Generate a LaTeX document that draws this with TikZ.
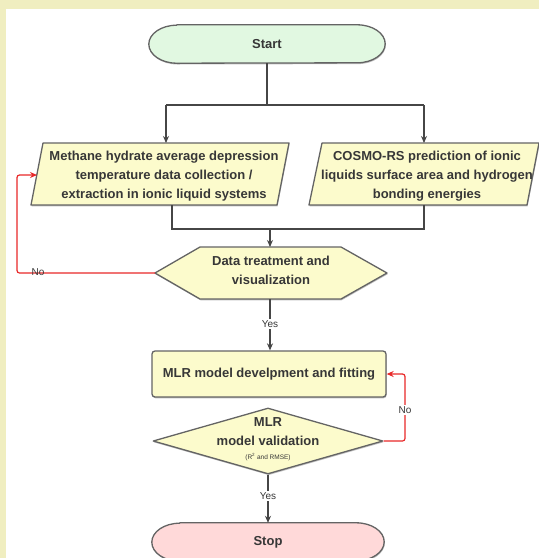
\documentclass[tikz,border=0pt]{standalone}
\usepackage{fontspec}
\setmainfont{Liberation Sans}
\usetikzlibrary{shapes.misc,shapes.geometric,arrows.meta,shadows}
\definecolor{framebg}{RGB}{240,238,192}
\definecolor{boxfill}{RGB}{252,251,204}
\definecolor{startfill}{RGB}{225,248,225}
\definecolor{stopfill}{RGB}{255,217,217}
\definecolor{bordergray}{RGB}{100,100,100}
\definecolor{linegray}{RGB}{70,70,70}
\definecolor{loopred}{RGB}{232,40,40}
\definecolor{textgray}{RGB}{55,55,55}
\begin{document}
\begin{tikzpicture}[x=1pt,y=-1pt,
  shp/.style={draw=bordergray, line width=1.3pt, fill=boxfill, line join=round,
    drop shadow={shadow xshift=0.6pt, shadow yshift=-1.3pt, fill=black, opacity=0.25}},
  conn/.style={draw=linegray, line width=1.2pt},
  arr/.style={conn, -{Stealth[length=7pt,width=6pt]}},
  redarr/.style={draw=loopred, line width=1.2pt, rounded corners=2.5pt, -{Stealth[length=7pt,width=6pt]}},
  txt/.style={font=\fontsize{13}{19}\selectfont\bfseries, text=textgray, align=center, inner sep=0pt},
  lbl/.style={font=\fontsize{10}{12}\selectfont, text=textgray, inner sep=1.5pt},
  termtxt/.style={txt, rectangle, minimum width=#1, minimum height=38pt},
  stadium/.style={shp, fill=#1}
]
\useasboundingbox (0,0) rectangle (539,558);
\clip (0,0) rectangle (539,558);
\fill[framebg] (0,0) rectangle (539,558);
\fill[white] (6,9) rectangle (539,558);

% Start
\node[termtxt=236pt] (start) at (267,44) {};
\draw[stadium=startfill] ([xshift=28pt]start.north west) -- ([xshift=-28pt]start.north east)
  arc[start angle=90, end angle=-90, x radius=28pt, y radius=19pt]
  -- ([xshift=28pt]start.south west)
  arc[start angle=270, end angle=90, x radius=28pt, y radius=19pt] -- cycle;
\node[txt] (starttxt) at (start) {Start};

% parallelograms
\draw[shp] (43,143) coordinate (pLtl) -- (289,143) coordinate (pLtr) -- (277,205) coordinate (pLbr) -- (31,205) coordinate (pLbl) -- cycle;
\node[txt] (paraL) at (164,176) {Methane hydrate average depression\\temperature data collection /\\extraction in ionic liquid systems};
\draw[shp] (322,143) coordinate (pRtl) -- (539,143) coordinate (pRtr) -- (527,205) coordinate (pRbr) -- (309,205) coordinate (pRbl) -- cycle;
\node[txt] (paraR) at (427,176) {COSMO-RS prediction of ionic\\liquids surface area and hydrogen\\bonding energies};

% branch from start
\coordinate (br) at (267,105);
\coordinate (brL) at (166,105);
\coordinate (brR) at (424,105);
\draw[conn] (start.south) -- (br);
\draw[conn] (brL) -- (brR);
\draw[arr] (brL) -- (brL |- pLtl);
\draw[arr] (brR) -- (brR |- pRtl);

% hexagon
\draw[shp] (155,273) coordinate (hW) -- (200,247) -- (341,247) -- (387,273) coordinate (hE) -- (341,299) -- (200,299) -- cycle;
\coordinate (hN) at (270,247);
\coordinate (hS) at (270,299);
\node[txt] (hex) at (271,270) {Data treatment and\\visualization};

% merge
\coordinate (mL) at (172,229);
\coordinate (mR) at (424,229);
\coordinate (mC) at (270,229);
\draw[conn] (mL |- pLbl) -- (mL) -- (mR) -- (mR |- pRbl);
\draw[arr] (mC) -- (hN);

% No loop 1
\coordinate (n1a) at (17,273);
\coordinate (n1b) at (17,175);
\coordinate (pLw) at (37,175);
\draw[redarr] (hW) -- (n1a) -- (n1b) -- (pLw);
\node[lbl] (no1) at (38,272) {No};

% MLR box
\node[rectangle, rounded corners=3pt, shp, minimum width=234pt, minimum height=46pt, txt] (mlr) at (269,374) {MLR model develpment and fitting};

% Yes 1
\draw[arr] (hS) -- (hS |- mlr.north);
\node[lbl, fill=white] (yes1) at (270,324) {Yes};

% diamond
\node[diamond, shp, minimum width=230pt, minimum height=66pt, inner sep=0pt] (val) at (268,441) {};
\node[txt] (valtxt) at (268,432) {MLR\\model validation};
\node[font=\fontsize{6.5}{8}\selectfont, text=textgray, inner sep=0pt] (rmse) at (268,457) {(R\textsuperscript{2} and RMSE)};

% No loop 2
\coordinate (n2a) at (405,441);
\coordinate (n2b) at (405,374);
\draw[redarr] (val.east) -- (n2a) -- (n2b) -- (mlr.east);
\node[lbl, fill=white] (no2) at (405,410) {No};

% Stop
\node[termtxt=232pt] (stop) at (268,542) {};
\draw[stadium=stopfill] ([xshift=28pt]stop.north west) -- ([xshift=-28pt]stop.north east)
  arc[start angle=90, end angle=-90, x radius=28pt, y radius=19pt]
  -- ([xshift=28pt]stop.south west)
  arc[start angle=270, end angle=90, x radius=28pt, y radius=19pt] -- cycle;
\node[txt] (stoptxt) at (stop) {Stop};

% Yes 2
\draw[arr] (val.south) -- (stop.north);
\node[lbl, fill=white] (yes2) at (268,496) {Yes};
\end{tikzpicture}
\end{document}
